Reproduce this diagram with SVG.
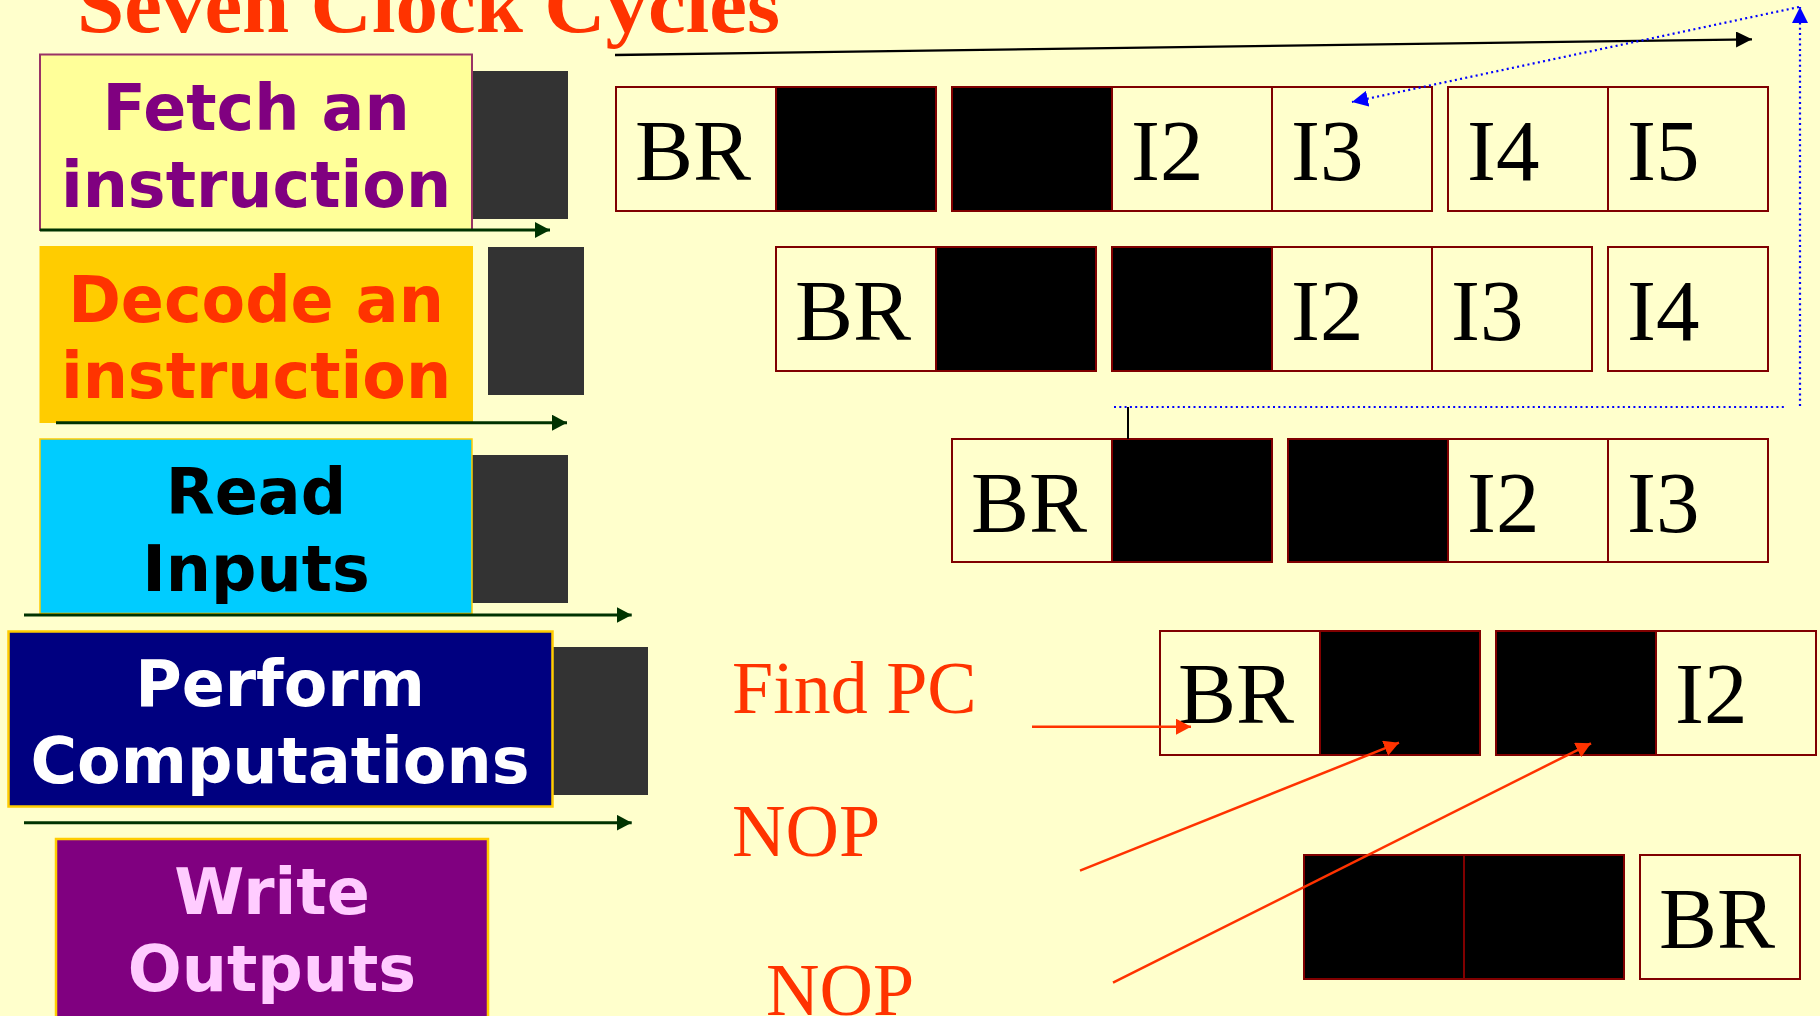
<svg xmlns="http://www.w3.org/2000/svg" width="1820" height="1016" viewBox="0 0 1820 1016">
<style>
.lbl{font-family:"DejaVu Sans","Verdana",sans-serif;font-weight:bold;font-size:63.5px;text-anchor:middle}
.sh{fill:#333333}
.cell{fill:#FFFFCC;stroke:#800000;stroke-width:2}
.blk{fill:#000000;stroke:#800000;stroke-width:2}
.ct{font-family:"Liberation Serif","Times New Roman",serif;font-size:87px;fill:#000000}
.red{font-family:"Liberation Serif","Times New Roman",serif;font-size:74px;fill:#FF3300}
.garr{stroke:#003300;stroke-width:3;fill:none;marker-end:url(#mg)}
.rarr{stroke:#FF3300;stroke-width:2.5;fill:none;marker-end:url(#mr)}
.blue{stroke:#0000FF;stroke-width:2.2;stroke-dasharray:2 3.3;fill:none}
</style>
<defs>
<marker id="mg" markerUnits="userSpaceOnUse" markerWidth="16" markerHeight="16" refX="15" refY="8" orient="auto"><path d="M0,0 L15,8 L0,16 z" fill="#003300"/></marker>
<marker id="mk" markerUnits="userSpaceOnUse" markerWidth="16" markerHeight="16" refX="16" refY="8" orient="auto"><path d="M0,0 L16,8 L0,16 z" fill="#000000"/></marker>
<marker id="mr" markerUnits="userSpaceOnUse" markerWidth="16" markerHeight="16" refX="15" refY="8" orient="auto"><path d="M0,0 L15,8 L0,16 z" fill="#FF3300"/></marker>
<marker id="mb" markerUnits="userSpaceOnUse" markerWidth="17" markerHeight="16" refX="16" refY="8" orient="auto"><path d="M0,0 L16,8 L0,16 z" fill="#0000FF"/></marker>
</defs>
<rect x="0" y="0" width="1820" height="1016" fill="#FFFFCC"/>

<text id="title" x="77" y="32" font-family="'Liberation Serif','Times New Roman',serif" font-weight="bold" font-size="80" fill="#FF3300" textLength="703" lengthAdjust="spacingAndGlyphs">Seven Clock Cycles</text>

<!-- stage boxes -->
<g id="fetch">
<rect class="sh" x="472" y="71" width="96" height="148"/>
<rect x="40" y="54.5" width="432" height="175.5" fill="#FFFF99" stroke="#993366" stroke-width="2"/>
<text class="lbl" x="256" y="130" fill="#800080">Fetch an</text>
<text class="lbl" x="256" y="206.7" fill="#800080">instruction</text>
</g>
<g id="decode">
<rect class="sh" x="488" y="247" width="96" height="148"/>
<rect x="39.5" y="246" width="433.5" height="177" fill="#FFCC00"/>
<text class="lbl" x="256" y="321.7" fill="#FF3300">Decode an</text>
<text class="lbl" x="256" y="398.3" fill="#FF3300">instruction</text>
</g>
<g id="read">
<rect class="sh" x="472" y="455" width="96" height="148"/>
<rect x="40" y="439" width="432" height="174.5" fill="#00CCFF" stroke="#FFCC00" stroke-width="1.5"/>
<text class="lbl" x="256" y="514" fill="#000000">Read</text>
<text class="lbl" x="256" y="591" fill="#000000">Inputs</text>
</g>
<g id="perform">
<rect class="sh" x="552" y="647" width="96" height="148"/>
<rect x="8.5" y="631.5" width="544" height="175" fill="#000080" stroke="#FFCC00" stroke-width="2.5"/>
<text class="lbl" x="280" y="706" fill="#FFFFFF">Perform</text>
<text class="lbl" x="280" y="782.7" fill="#FFFFFF">Computations</text>
</g>
<g id="write">
<rect x="56" y="839" width="432" height="180" fill="#800080" stroke="#FFCC00" stroke-width="2.5"/>
<text class="lbl" x="272" y="914" fill="#FFCCFF">Write</text>
<text class="lbl" x="272" y="990.7" fill="#FFCCFF">Outputs</text>
</g>

<!-- pipeline rows -->
<g id="r1a">
<rect class="cell" x="616" y="87" width="160" height="124"/><text class="ct" x="635" y="180">BR</text>
<rect class="blk" x="776" y="87" width="160" height="124"/>
</g>
<g id="r1b">
<rect class="blk" x="952" y="87" width="160" height="124"/>
<rect class="cell" x="1112" y="87" width="160" height="124"/><text class="ct" x="1131" y="180">I2</text>
<rect class="cell" x="1272" y="87" width="160" height="124"/><text class="ct" x="1291" y="180">I3</text>
</g>
<g id="r1c">
<rect class="cell" x="1448" y="87" width="160" height="124"/><text class="ct" x="1467" y="180">I4</text>
<rect class="cell" x="1608" y="87" width="160" height="124"/><text class="ct" x="1627" y="180">I5</text>
</g>

<g id="r2a">
<rect class="cell" x="776" y="247" width="160" height="124"/><text class="ct" x="795" y="340">BR</text>
<rect class="blk" x="936" y="247" width="160" height="124"/>
</g>
<g id="r2b">
<rect class="blk" x="1112" y="247" width="160" height="124"/>
<rect class="cell" x="1272" y="247" width="160" height="124"/><text class="ct" x="1291" y="340">I2</text>
<rect class="cell" x="1432" y="247" width="160" height="124"/><text class="ct" x="1451" y="340">I3</text>
</g>
<g id="r2c">
<rect class="cell" x="1608" y="247" width="160" height="124"/><text class="ct" x="1627" y="340">I4</text>
</g>

<g id="r3a">
<rect class="cell" x="952" y="439" width="160" height="123"/><text class="ct" x="971" y="532">BR</text>
<rect class="blk" x="1112" y="439" width="160" height="123"/>
</g>
<g id="r3b">
<rect class="blk" x="1288" y="439" width="160" height="123"/>
<rect class="cell" x="1448" y="439" width="160" height="123"/><text class="ct" x="1467" y="532">I2</text>
<rect class="cell" x="1608" y="439" width="160" height="123"/><text class="ct" x="1627" y="532">I3</text>
</g>

<g id="r4a">
<rect class="cell" x="1160" y="631" width="160" height="124"/><text class="ct" x="1178" y="723">BR</text>
<rect class="blk" x="1320" y="631" width="160" height="124"/>
</g>
<g id="r4b">
<rect class="blk" x="1496" y="631" width="160" height="124"/>
<rect class="cell" x="1656" y="631" width="160" height="124"/><text class="ct" x="1675" y="723">I2</text>
</g>

<g id="r5a">
<rect class="blk" x="1304" y="855" width="160" height="124"/>
<rect class="blk" x="1464" y="855" width="160" height="124"/>
</g>
<g id="r5b">
<rect class="cell" x="1640" y="855" width="160" height="124"/><text class="ct" x="1659" y="948">BR</text>
</g>

<!-- annotations -->
<g id="findpc"><text class="red" x="732" y="712.7">Find PC</text></g>
<g id="nop1"><text class="red" x="732" y="856">NOP</text></g>
<g id="nop2"><text class="red" x="766" y="1015">NOP</text></g>

<!-- connectors -->
<g id="connectors">
<line class="garr" x1="40" y1="230" x2="550" y2="230"/>
<line class="garr" x1="56" y1="422.7" x2="567" y2="422.7"/>
<line class="garr" x1="24" y1="615" x2="631.7" y2="615"/>
<line class="garr" x1="24" y1="822.7" x2="631.7" y2="822.7"/>
<line x1="615" y1="55" x2="1752" y2="39.3" stroke="#000000" stroke-width="2.3" marker-end="url(#mk)"/>
<line class="blue" x1="1114" y1="407" x2="1784" y2="407"/>
<line class="blue" x1="1800" y1="406" x2="1800" y2="7" marker-end="url(#mb)"/>
<line class="blue" x1="1799" y1="7" x2="1352" y2="102" marker-end="url(#mb)"/>
<line x1="1128" y1="407" x2="1128" y2="439" stroke="#000000" stroke-width="2"/>
<line class="rarr" x1="1032" y1="726.7" x2="1191" y2="726.7"/>
<line class="rarr" x1="1080" y1="870.7" x2="1399" y2="742.7"/>
<line class="rarr" x1="1113" y1="982.7" x2="1591" y2="743.3"/>
</g>
</svg>
